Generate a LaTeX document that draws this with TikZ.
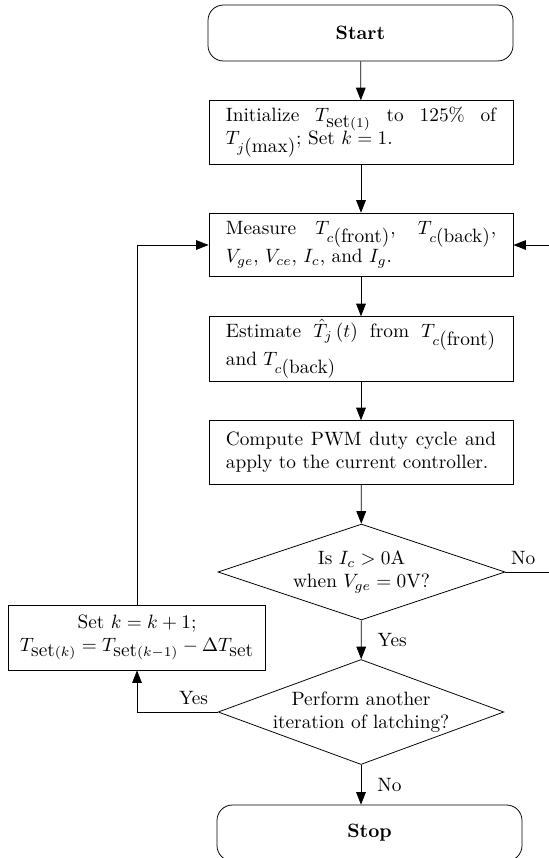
\documentclass[tikz,border=0pt]{standalone}
\usetikzlibrary{arrows.meta,shapes.geometric,positioning}
\begin{document}
\begin{tikzpicture}[x=0.518pt,y=-0.518pt,
			>={Triangle[length=6.5pt,width=5pt]},
			terminal/.style={
			shape=rectangle,
			rounded corners=8pt,
			minimum width=158pt,
			minimum height=29pt,
			draw, font=\bfseries},
			process/.style={
			shape=rectangle,
			text width=140pt,
			inner xsep=8.75pt, inner ysep=1.5pt,
			minimum height=33pt,
			draw, align=justify},
			update/.style={
			shape=rectangle,
			minimum width=133pt,
			minimum height=33.7pt,
			inner xsep=3pt,
			draw, align=center},
			decision/.style={
			shape=diamond,
			inner xsep=-40pt, inner ysep=-8pt,
			draw, align=center}]
			\useasboundingbox (0,0) rectangle (549,858);
			\clip (0,0) rectangle (549,858);
			\node [terminal] (start) at (360.5,33) {Start};
			\node [process] (init) at (361,132.5) {Initialize $T_{\mbox{set}(1)}$ to 125\% of $T_{j\mbox{(max)}}$; Set $k=1$.};
			\node [process] (measure) at (361,245) {Measure $T_{c\mbox{(front)}}$, $T_{c\mbox{(back)}}$, $V_{ge}$, $V_{ce}$, $I_c$, and $I_g$.};
			\node [process] (estimate) at (361,349) {Estimate $\hat{T}_j\left(t\right)$ from $T_{c\mbox{(front)}}$ and $T_{c\mbox{(back)}}$};
			\node [process] (compute) at (361,452.5) {Compute PWM duty cycle and apply to the current controller.};
			\node [decision,minimum width=148.7pt,minimum height=49.7pt] (check) at (361.5,572) {Is $I_c>0$A\\when $V_{ge}=0$V?};
			\node [decision,minimum width=148pt,minimum height=54.4pt] (again) at (361,712) {Perform another\\iteration of latching?};
			\node [update] (set) at (137,637.5) {Set $k=k+1$;\\$T_{\mbox{set}(k)}=T_{\mbox{set}(k-1)}-\Delta T_{\mbox{set}}$};
			\node [terminal] (stop) at (369.5,833) {Stop};
			\coordinate (back) at (565,572);
			\draw [->] (start) edge (init);
			\draw [->] (init) edge (measure);
			\draw [->] (measure) edge (estimate);
			\draw [->] (estimate) edge (compute);
			\draw [->] (compute) edge (check);
			\draw [->] (check) edge node[right=5pt] {Yes} (again);
			\draw [->] (again) -- node[right=5pt] {No} (again |- stop.north);
			\draw [->] (check.east) -- node[above,pos=0.3] {No} (back) |- (measure.east);
			\draw [->] (again.west) -| node[above,pos=0.15] {Yes} (set.south);
			\draw [->] (set.north) |- (measure.west);
		\end{tikzpicture}
\end{document}
